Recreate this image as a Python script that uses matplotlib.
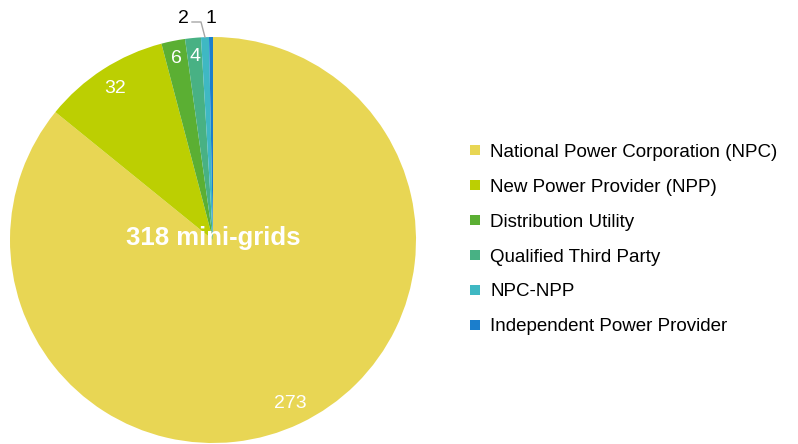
import matplotlib
matplotlib.use("Agg")
import matplotlib.pyplot as plt
from matplotlib.lines import Line2D
import numpy as np

plt.rcParams['font.family'] = ['Liberation Sans', 'DejaVu Sans']

categories = ["National Power Corporation (NPC)", "New Power Provider (NPP)",
              "Distribution Utility", "Qualified Third Party", "NPC-NPP",
              "Independent Power Provider"]
values = [273, 32, 6, 4, 2, 1]
colors = ["#E8D654", "#BCCF02", "#5BAF33", "#48B184", "#3FB8C3", "#1B7ECC"]
center_text = "318 mini-grids"

W, H = 798, 444
fig = plt.figure(figsize=(W / 100, H / 100), dpi=100)
cx, cy, r = 213, 240, 203
ax = fig.add_axes([(cx - r) / W, (H - cy - r) / H, 2 * r / W, 2 * r / H])
wedges, _ = ax.pie(values, colors=colors, startangle=90, counterclock=False,
                   radius=1.0, wedgeprops=dict(linewidth=0))
ax.set_xlim(-1, 1)
ax.set_ylim(-1, 1)
ax.set_aspect('equal')
ax.axis('off')

def px(x, y):
    return ((x - cx) / r, (cy - y) / r)

for i, (w, v) in enumerate(zip(wedges, values)):
    ang = np.deg2rad((w.theta1 + w.theta2) / 2)
    if i < 4:
        d = 0.89 if i < 2 else 0.91
        ax.text(d * np.cos(ang), d * np.sin(ang), str(v), color='white',
                ha='center', va='center', fontsize=14)
    elif i == 4:
        tx, ty = px(183, 18)
        ax.text(tx, ty, str(v), ha='center', va='center', fontsize=14, color='black')
        edge = (np.cos(ang), np.sin(ang))
        pts = [px(192, 22), px(201, 22), edge]
        ax.plot([p[0] for p in pts], [p[1] for p in pts], color='#A6A6A6', lw=1,
                clip_on=False)
    else:
        tx, ty = px(211, 18)
        ax.text(tx, ty, str(v), ha='center', va='center', fontsize=14,
                color='black')

ax.text(0, 0.01, center_text, color='white', fontsize=18.5, fontweight='bold',
        ha='center', va='center')

handles = [Line2D([0], [0], marker='s', linestyle='none', markersize=7.5,
                  markerfacecolor=c, markeredgewidth=0) for c in colors]
fig.legend(handles, categories, loc='center left',
           bbox_to_anchor=(461 / W, 1 - 239.5 / H), frameon=False, fontsize=13.5,
           handlelength=0.7, handletextpad=0.45, labelspacing=0.95,
           borderaxespad=0)

fig.savefig("out.png", dpi=100)
